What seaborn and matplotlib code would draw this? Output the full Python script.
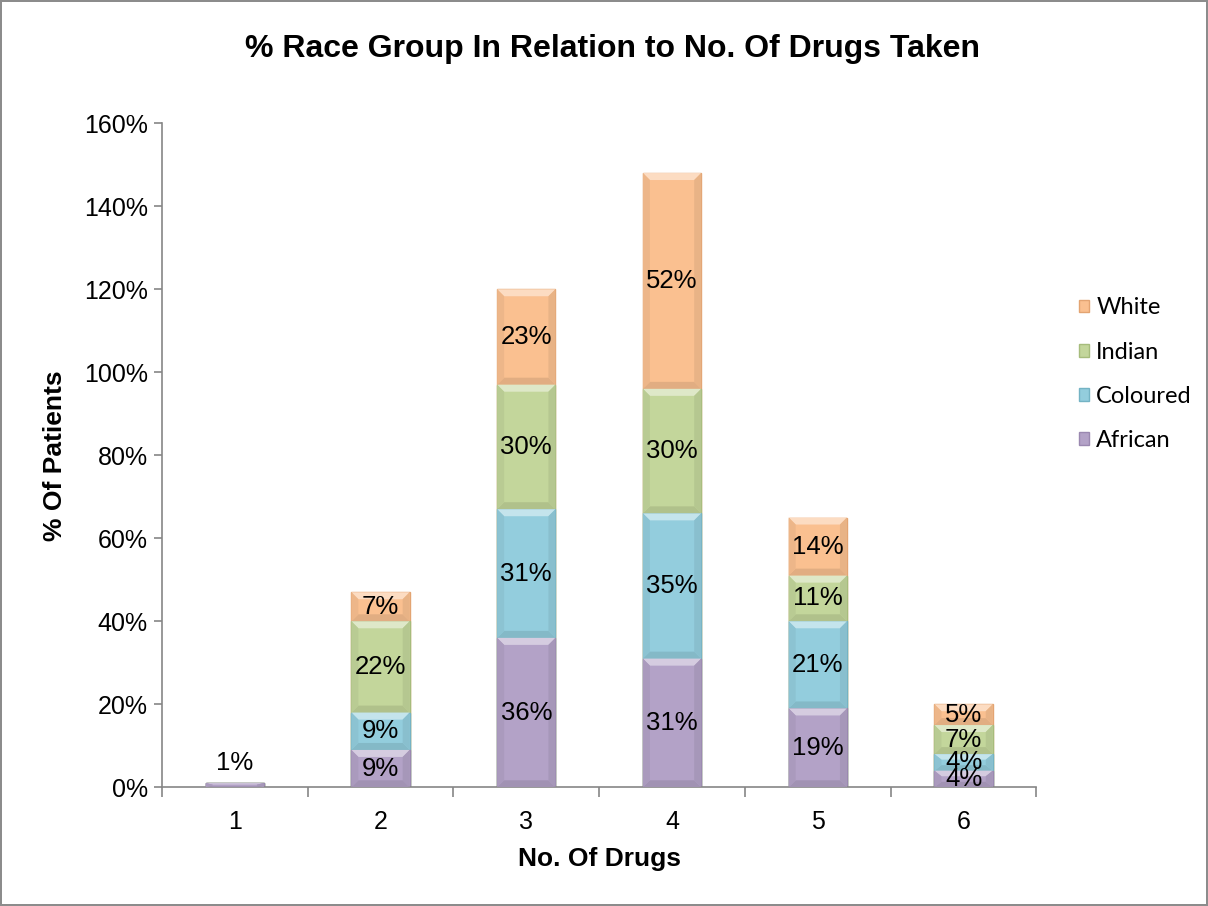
import numpy as np
import pandas as pd
import matplotlib
matplotlib.use("Agg")
import matplotlib.pyplot as plt
import seaborn as sns
from matplotlib.patches import Patch, Polygon
from matplotlib.colors import to_rgb

# Number of drugs taken
drugs = ["1", "2", "3", "4", "5", "6"]

# Percentage of patients per race group
african = [1, 9, 36, 31, 19, 4]
coloured = [0, 9, 31, 35, 21, 4]
indian = [0, 22, 30, 30, 11, 7]
white = [0, 7, 23, 52, 14, 5]

groups = ["African", "Coloured", "Indian", "White"]
series = [african, coloured, indian, white]
colors = ["#B3A2C7", "#93CDDD", "#C3D69B", "#FAC090"]
edges = ["#9A88B0", "#74B3C4", "#A6BC7C", "#E3A472"]


def mix(c, other, t):
    a = np.array(to_rgb(c))
    b = np.array(to_rgb(other))
    return tuple(a * (1 - t) + b * t)


sns.set_theme(style="white")
plt.rcParams["font.family"] = ["Liberation Sans", "DejaVu Sans"]
plt.rcParams["text.color"] = "black"
plt.rcParams["axes.labelcolor"] = "black"
plt.rcParams["xtick.color"] = "black"
plt.rcParams["ytick.color"] = "black"

fig = plt.figure(figsize=(12.08, 9.06), dpi=100)
fig.patch.set_facecolor("white")
fig.patch.set_edgecolor("#8C8C8C")
fig.patch.set_linewidth(1.5)
ax = fig.add_axes([0.134, 0.131, 0.724, 0.733])

# Cumulative tops, stacked from the bottom up
cum = np.cumsum(np.array(series, dtype=float), axis=0)

# Draw tallest stack first, then overlay shorter cumulative stacks
for i in range(len(groups) - 1, -1, -1):
    df = pd.DataFrame({"drugs": drugs, "value": cum[i]})
    sns.barplot(data=df, x="drugs", y="value", color=colors[i], width=0.4,
                edgecolor=edges[i], linewidth=1.0, saturation=1, ax=ax, zorder=2)

ax.set_ylim(0, 160)
ax.set_xlim(-0.5, 5.5)

# Bevel shading on each visible segment
fig.canvas.draw()
bbox = ax.get_window_extent()
px_x = 6.0 / bbox.width
px_y = 160.0 / bbox.height
for k, cont in enumerate(ax.containers):
    i = len(groups) - 1 - k
    for j, patch in enumerate(cont.patches):
        v = series[i][j]
        if v <= 0:
            continue
        x0 = patch.get_x()
        w = patch.get_width()
        y1 = cum[i][j]
        y0 = y1 - v
        h = y1 - y0
        dy = min(7 * px_y, h / 3.0)
        dx = min(7 * px_x, w / 4.0)
        top = Polygon([(x0, y1), (x0 + w, y1), (x0 + w - dx, y1 - dy), (x0 + dx, y1 - dy)],
                      closed=True, facecolor=mix(colors[i], "white", 0.45), edgecolor="none", zorder=3)
        bot = Polygon([(x0, y0), (x0 + w, y0), (x0 + w - dx, y0 + dy), (x0 + dx, y0 + dy)],
                      closed=True, facecolor=mix(colors[i], "black", 0.10), edgecolor="none", zorder=3)
        left = Polygon([(x0, y0), (x0, y1), (x0 + dx, y1 - dy), (x0 + dx, y0 + dy)],
                       closed=True, facecolor=mix(colors[i], "black", 0.05), edgecolor="none", zorder=3)
        right = Polygon([(x0 + w, y0), (x0 + w, y1), (x0 + w - dx, y1 - dy), (x0 + w - dx, y0 + dy)],
                        closed=True, facecolor=mix(colors[i], "black", 0.07), edgecolor="none", zorder=3)
        for p in (top, bot, left, right):
            ax.add_patch(p)

# Segment labels
for i, vals in enumerate(series):
    for j, v in enumerate(vals):
        if v <= 0:
            continue
        center = cum[i][j] - v / 2.0
        if v < 2:
            ax.text(j, cum[i][j] + 2.0, f"{v}%", ha="center", va="bottom",
                    fontsize=18.5, color="black", zorder=5)
        else:
            ax.text(j, center, f"{v}%", ha="center", va="center",
                    fontsize=18.5, color="black", zorder=5)

ax.set_yticks(np.arange(0, 161, 20))
ax.set_yticklabels([f"{t}%" for t in range(0, 161, 20)], fontsize=18)
ax.set_xticks(range(6))
ax.set_xticklabels(drugs, fontsize=18)
ax.tick_params(axis="x", length=0, pad=16)
ax.tick_params(axis="y", length=6, color="#868686", direction="out", left=True, width=1.2, pad=4)

# Category boundary tick marks on the x axis
ax.set_xticks(np.arange(-0.5, 6.0, 1.0), minor=True)
ax.tick_params(axis="x", which="minor", length=7, color="#868686", width=1.2, bottom=True, direction="out")

for s in ["top", "right"]:
    ax.spines[s].set_visible(False)
for s in ["left", "bottom"]:
    ax.spines[s].set_color("#868686")
    ax.spines[s].set_linewidth(1.2)

ax.set_xlabel("No. Of Drugs", fontsize=19, fontweight="bold", labelpad=10)
ax.set_ylabel("% Of Patients", fontsize=19, fontweight="bold", labelpad=12)
fig.text(0.507, 0.946, "% Race Group In Relation to No. Of Drugs Taken",
         ha="center", va="center", fontsize=23, fontweight="bold")

handles = [Patch(facecolor=colors[i], edgecolor=edges[i], label=groups[i])
           for i in range(len(groups) - 1, -1, -1)]
leg = fig.legend(handles=handles, loc="center left", bbox_to_anchor=(0.885, 0.587),
                 frameon=False, handlelength=0.45, handleheight=0.45,
                 labelspacing=0.98, handletextpad=0.3, borderaxespad=0.0,
                 prop={"family": ["Lato", "DejaVu Sans"], "size": 17})

fig.savefig("out.png", dpi=100, facecolor=fig.get_facecolor(), edgecolor=fig.get_edgecolor())
